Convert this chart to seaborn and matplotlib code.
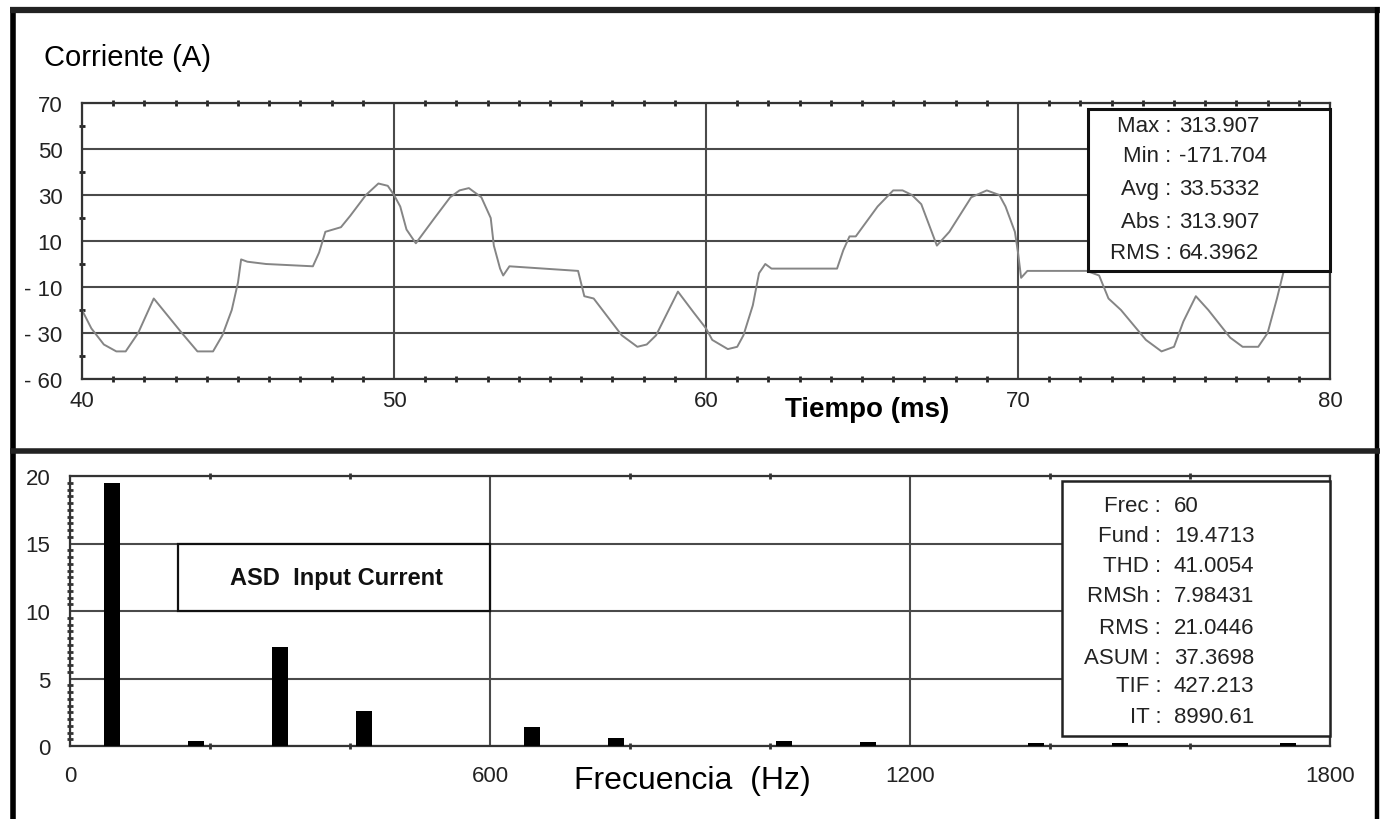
import matplotlib
matplotlib.use("Agg")
import matplotlib.pyplot as plt
import seaborn as sns
from matplotlib.patches import Rectangle
from matplotlib.lines import Line2D
from matplotlib.ticker import MultipleLocator, FixedLocator

# ---------------- data ----------------
time_ms = [40.0, 40.3, 40.7, 41.1, 41.4, 41.8, 42.3, 42.9, 43.2, 43.7, 44.2, 44.5, 44.8,
           45.0, 45.1, 45.3, 45.9, 47.4, 47.6, 47.8, 48.3, 48.6, 49.1, 49.5, 49.8, 50.0,
           50.2, 50.4, 50.7, 51.3, 51.8, 52.1, 52.4, 52.8, 53.1, 53.2, 53.4, 53.5, 53.7,
           55.9, 56.1, 56.4, 57.3, 57.8, 58.1, 58.4, 59.1, 59.6, 60.0, 60.2, 60.7, 61.0,
           61.2, 61.5, 61.7, 61.9, 62.1, 64.2, 64.4, 64.6, 64.8, 65.5, 66.0, 66.3, 66.6,
           66.9, 67.4, 67.8, 68.5, 69.0, 69.4, 69.6, 69.9, 70.0, 70.1, 70.3, 72.2, 72.6,
           72.9, 73.3, 74.1, 74.6, 75.0, 75.3, 75.7, 76.1, 76.8, 77.2, 77.7, 78.0, 78.3,
           78.5, 78.8]
current_a = [-20, -28, -35, -38, -38, -30, -15, -25, -30, -38, -38, -31, -20,
             -8, 2, 1, 0, -1, 5, 14, 16, 21, 30, 35, 34, 30,
             25, 15, 9, 20, 29, 32, 33, 29, 20, 8, -2, -5, -1,
             -3, -14, -15, -31, -36, -35, -31, -12, -21, -28, -33, -37, -36,
             -31, -18, -4, 0, -2, -2, 6, 12, 12, 25, 32, 32, 30,
             26, 8, 14, 29, 32, 30, 25, 14, 5, -6, -3, -3, -5,
             -15, -20, -33, -38, -36, -25, -14, -20, -32, -36, -36, -30, -15,
             -4, 5]

top_ytick_values = [70, 50, 30, 10, -10, -30, -50]
top_ytick_labels = ["70", "50", "30", "10", "- 10", "- 30", "- 60"]
top_xtick_values = [40, 50, 60, 70, 80]

harm_freq = [60, 180, 300, 420, 660, 780, 1020, 1140, 1380, 1500, 1740]
harm_amp = [19.5, 0.35, 7.3, 2.6, 1.4, 0.6, 0.4, 0.3, 0.25, 0.25, 0.2]

bot_xtick_values = [0, 600, 1200, 1800]
bot_ytick_values = [0, 5, 10, 15, 20]

top_stat_labels = ["Max", "Min", "Avg", "Abs", "RMS"]
top_stat_values = ["313.907", "-171.704", "33.5332", "313.907", "64.3962"]
bot_stat_labels = ["Frec", "Fund", "THD", "RMSh", "RMS", "ASUM", "TIF", "IT"]
bot_stat_values = ["60", "19.4713", "41.0054", "7.98431", "21.0446", "37.3698", "427.213", "8990.61"]

# ---------------- style ----------------
sns.set_theme(style="white")
plt.rcParams["font.family"] = ["Liberation Sans", "DejaVu Sans"]

W, H = 1380, 820
fig = plt.figure(figsize=(W / 100, H / 100), dpi=100)
fig.patch.set_facecolor("white")

GRID = "#4a4a4a"
TICK_FS = 16
BOX_FS = 16

# ---------------- top panel ----------------
ax1 = fig.add_axes([82 / W, 1 - 380 / H, (1330 - 82) / W, (380 - 104) / H])
sns.lineplot(x=time_ms, y=current_a, ax=ax1, color="#858585", linewidth=1.4,
             estimator=None, sort=False)
ax1.set_xlim(40, 80)
ax1.set_ylim(-50, 70)
ax1.xaxis.set_major_locator(FixedLocator(top_xtick_values))
ax1.yaxis.set_major_locator(FixedLocator(top_ytick_values))
ax1.set_yticklabels(top_ytick_labels)
ax1.xaxis.set_minor_locator(MultipleLocator(1))
ax1.yaxis.set_minor_locator(MultipleLocator(10))
ax1.grid(True, which="major", color=GRID, linewidth=1.5)
ax1.tick_params(axis="both", which="major", length=0, labelsize=TICK_FS, colors="#222")
ax1.tick_params(axis="x", which="major", pad=8)
ax1.tick_params(axis="y", which="major", pad=14)
ax1.tick_params(axis="both", which="minor", direction="inout", length=4, width=2,
                color="#222", bottom=True, left=True, top=True)
for s in ax1.spines.values():
    s.set_color("#333")
    s.set_linewidth(1.6)
ax1.set_xlabel("Tiempo (ms)", fontsize=20, fontweight="bold", color="black")
ax1.xaxis.set_label_coords((867 - 82) / 1248, -0.108)
ax1.xaxis.label.set_verticalalignment("center")
ax1.set_ylabel("Corriente (A)", fontsize=21, color="black", rotation=0)
ax1.yaxis.set_label_coords((127 - 82) / 1248, 1.165)
ax1.yaxis.label.set_verticalalignment("center")
ax1.yaxis.label.set_horizontalalignment("center")

# stats box (top)
ax1.add_patch(Rectangle((0.806, 0.391), 0.194, 0.587, transform=ax1.transAxes,
                        facecolor="white", edgecolor="#111", linewidth=2.2,
                        zorder=5, clip_on=False))
top_rows_y = [0.920, 0.808, 0.692, 0.572, 0.460]
for lab, val, yy in zip(top_stat_labels, top_stat_values, top_rows_y):
    ax1.text(0.873, yy, f"{lab} :", transform=ax1.transAxes, ha="right", va="center",
             fontsize=BOX_FS, color="#222", zorder=6)
    ax1.text(0.879, yy, val, transform=ax1.transAxes, ha="left", va="center",
             fontsize=BOX_FS, color="#222", zorder=6)

# ---------------- bottom panel ----------------
ax2 = fig.add_axes([70 / W, 1 - 747 / H, (1330 - 70) / W, (747 - 477) / H])
sns.barplot(x=harm_freq, y=harm_amp, ax=ax2, native_scale=True, color="black",
            saturation=1, width=0.19, linewidth=0, errorbar=None, zorder=4)
ax2.set_xlim(0, 1800)
ax2.set_ylim(0, 20)
ax2.xaxis.set_major_locator(FixedLocator(bot_xtick_values))
ax2.yaxis.set_major_locator(FixedLocator(bot_ytick_values))
ax2.xaxis.set_minor_locator(MultipleLocator(200))
ax2.yaxis.set_minor_locator(MultipleLocator(0.5))
ax2.grid(True, which="major", color=GRID, linewidth=1.5)
ax2.set_axisbelow(True)
ax2.tick_params(axis="both", which="major", length=0, labelsize=TICK_FS, colors="#222")
ax2.tick_params(axis="x", which="major", pad=14)
ax2.tick_params(axis="y", which="major", pad=14)
ax2.tick_params(axis="both", which="minor", direction="inout", length=4, width=2,
                color="#333", bottom=True, left=True, top=True)
for s in ax2.spines.values():
    s.set_color("#333")
    s.set_linewidth(1.6)
ax2.set_xlabel("Frecuencia  (Hz)", fontsize=23, color="black")
ax2.xaxis.set_label_coords((692 - 70) / 1260, -0.125)
ax2.xaxis.label.set_verticalalignment("center")
ax2.set_ylabel("")

# ASD label box
ax2.add_patch(Rectangle((154, 10), 446, 5, facecolor="white", edgecolor="#111",
                        linewidth=1.6, zorder=5))
ax2.text(381, 12.5, "ASD  Input Current", ha="center", va="center", fontsize=17,
         fontweight="bold", color="#111", zorder=6)

# stats box (bottom)
ax2.add_patch(Rectangle((0.787, 0.037), 0.213, 0.944, transform=ax2.transAxes,
                        facecolor="white", edgecolor="#222", linewidth=1.8,
                        zorder=5, clip_on=False))
bot_rows_px = [507, 537, 567, 596, 628, 658, 687, 718]
for lab, val, py in zip(bot_stat_labels, bot_stat_values, bot_rows_px):
    yy = (747 - py) / 270
    ax2.text(0.866, yy, f"{lab} :", transform=ax2.transAxes, ha="right", va="center",
             fontsize=BOX_FS, color="#222", zorder=6)
    ax2.text(0.876, yy, val, transform=ax2.transAxes, ha="left", va="center",
             fontsize=BOX_FS, color="#222", zorder=6)

# ---------------- outer frame ----------------
def fline(x0, y0, x1, y1, lw, color):
    fig.add_artist(Line2D([x0 / W, x1 / W], [1 - y0 / H, 1 - y1 / H],
                          color=color, linewidth=lw, solid_capstyle="butt"))

fline(12.5, 8, 12.5, 820, 4.0, "black")
fline(10, 10.5, 1380, 10.5, 4.5, "#222")
fline(1377, 8, 1377, 820, 3.2, "black")
fline(10, 451.5, 1380, 451.5, 4.0, "#222")

fig.savefig("out.png", dpi=100, facecolor="white")
